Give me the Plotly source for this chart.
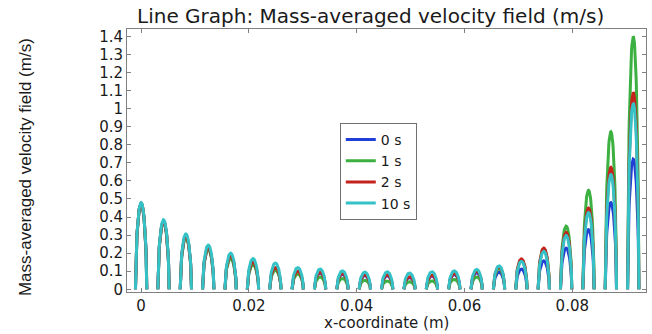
import plotly.graph_objects as go

# channel centre positions (m)
centers = [0.0, 0.00415, 0.0083, 0.01245, 0.0166, 0.02075, 0.0249, 0.02905,
           0.0332, 0.03735, 0.0415, 0.04565, 0.0498, 0.05395, 0.0581, 0.06225,
           0.0664, 0.07055, 0.0747, 0.07885, 0.083, 0.08715, 0.0913]
half_width = 0.00105  # channel half width (m)

# peak velocity per channel (m/s), per time step
peak_0s = [0.475, 0.375, 0.29, 0.225, 0.18, 0.145, 0.115, 0.095, 0.09, 0.083, 0.076,
           0.075, 0.066, 0.073, 0.082, 0.092, 0.095, 0.112, 0.157, 0.228, 0.33, 0.48, 0.72]
peak_1s = [0.475, 0.37, 0.285, 0.22, 0.17, 0.135, 0.105, 0.085, 0.068, 0.06, 0.05,
           0.046, 0.042, 0.046, 0.055, 0.068, 0.115, 0.165, 0.225, 0.35, 0.548, 0.872, 1.40]
peak_2s = [0.475, 0.375, 0.295, 0.23, 0.185, 0.15, 0.12, 0.10, 0.095, 0.088, 0.08,
           0.08, 0.07, 0.078, 0.087, 0.10, 0.125, 0.168, 0.228, 0.315, 0.45, 0.675, 1.09]
peak_10s = [0.48, 0.385, 0.307, 0.245, 0.20, 0.17, 0.145, 0.12, 0.112, 0.102, 0.095,
            0.097, 0.09, 0.097, 0.102, 0.11, 0.13, 0.155, 0.21, 0.298, 0.425, 0.635, 1.03]

series_names = ["0 s", "1 s", "2 s", "10 s"]
series_peaks = [peak_0s, peak_1s, peak_2s, peak_10s]
series_colors = ["#1f3fd6", "#3cb040", "#c4231c", "#35c2c6"]

x_ticks = [0, 0.02, 0.04, 0.06, 0.08]
x_tick_text = ["0", "0.02", "0.04", "0.06", "0.08"]
y_ticks = [0, 0.1, 0.2, 0.3, 0.4, 0.5, 0.6, 0.7, 0.8, 0.9, 1.0, 1.1, 1.2, 1.3, 1.4]
y_tick_text = ["0", "0.1", "0.2", "0.3", "0.4", "0.5", "0.6", "0.7", "0.8", "0.9",
               "1", "1.1", "1.2", "1.3", "1.4"]

NPTS = 41


def profile(peaks):
    xs, ys = [], []
    for c, p in zip(centers, peaks):
        for k in range(NPTS):
            s = -1 + 2 * k / (NPTS - 1)
            xs.append(c + s * half_width)
            ys.append(p * max(0.0, 1 - s * s) ** 0.6)
        xs.append(None)
        ys.append(None)
    return xs, ys


fig = go.Figure()
for name, peaks, col in zip(series_names, series_peaks, series_colors):
    xs, ys = profile(peaks)
    fig.add_trace(go.Scatter(x=xs, y=ys, mode="lines", name=name,
                             line=dict(color=col, width=3), connectgaps=False))

axis_common = dict(showline=True, linecolor="#808080", linewidth=1, mirror="allticks",
                   ticks="inside", ticklen=4, tickcolor="#808080", showgrid=False,
                   zeroline=False)

fig.update_layout(
    width=652, height=334,
    margin=dict(l=127, r=6, t=29, b=42),
    paper_bgcolor="white", plot_bgcolor="white",
    showlegend=True,
    legend=dict(x=0.41, y=0.643, xanchor="left", yanchor="top",
                bgcolor="white", bordercolor="#707070", borderwidth=1,
                font=dict(family="DejaVu Sans", size=14, color="#1a1a1a"),
                tracegroupgap=0),
    xaxis=dict(range=[-0.00262, 0.09367], tickvals=x_ticks, ticktext=x_tick_text,
               tickfont=dict(family="DejaVu Sans", size=15, color="#1a1a1a"),
               **axis_common),
    yaxis=dict(range=[-0.015, 1.441], tickvals=y_ticks, ticktext=y_tick_text,
               tickfont=dict(family="DejaVu Sans", size=15, color="#1a1a1a"),
               **axis_common),
    annotations=[
        dict(text="Line Graph: Mass-averaged velocity field (m/s)", xref="paper", yref="paper",
             x=0.47, y=1.049, xanchor="center", yanchor="middle", showarrow=False,
             font=dict(family="DejaVu Sans", size=20, color="#1a1a1a")),
        dict(text="x-coordinate (m)", xref="paper", yref="paper",
             x=0.5, y=-0.1597, xanchor="center", yanchor="bottom", showarrow=False,
             font=dict(family="DejaVu Sans", size=15, color="#1a1a1a")),
        dict(text="Mass-averaged velocity field (m/s)", xref="paper", yref="paper",
             x=-0.1965, y=0.475, xanchor="center", yanchor="middle", showarrow=False,
             textangle=-90,
             font=dict(family="Liberation Sans Narrow, Arial Narrow, Liberation Sans", size=17,
                       color="#1a1a1a")),
    ],
)

fig.write_html("out.html", config={"displayModeBar": False},
               post_script="document.body.style.margin='0';document.body.style.overflow='hidden';")
